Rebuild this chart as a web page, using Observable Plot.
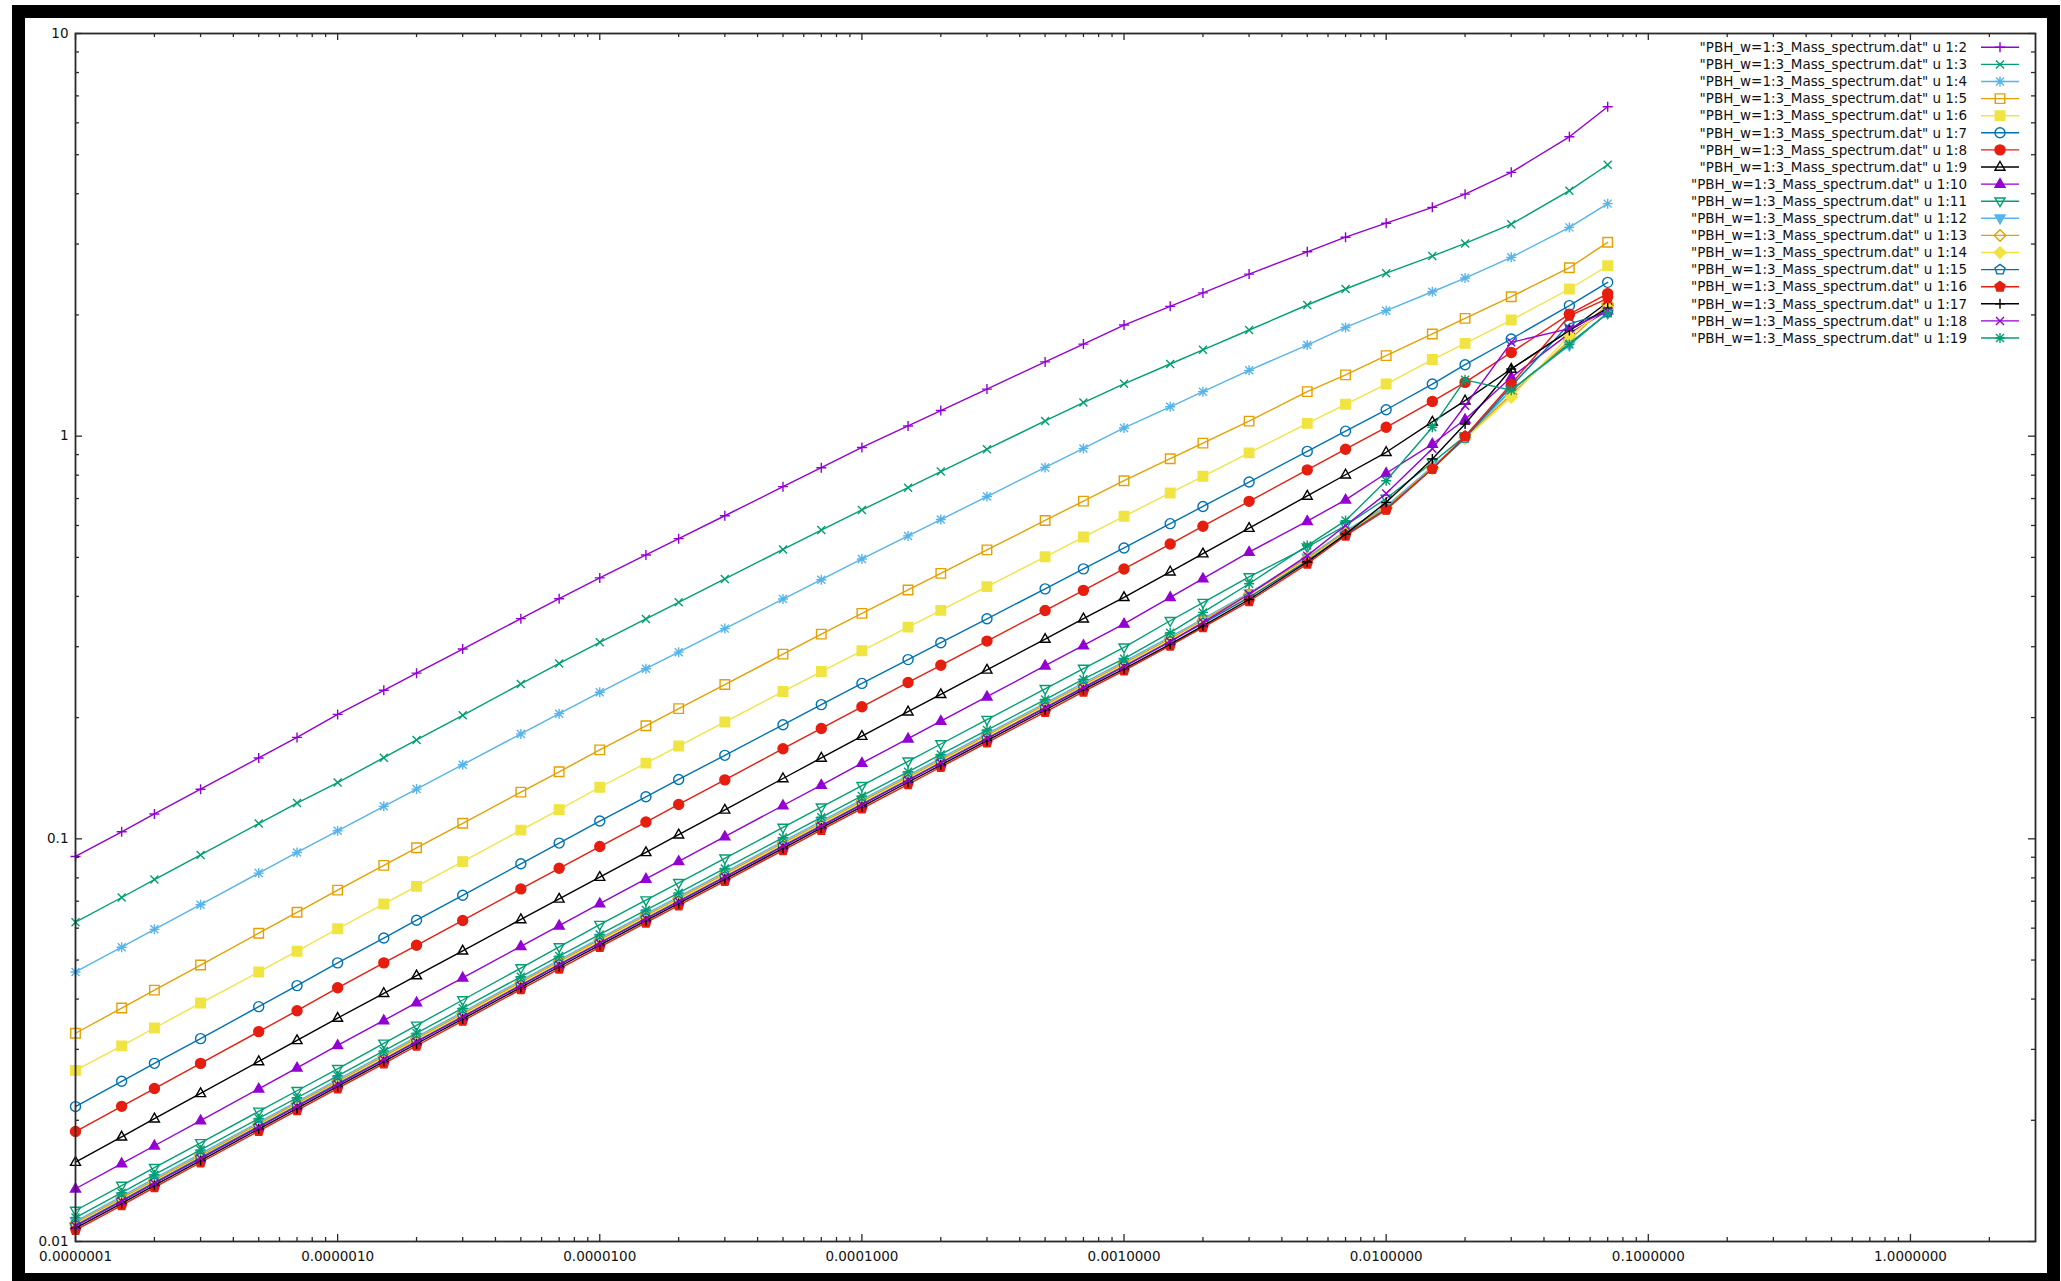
<!DOCTYPE html>
<html><head><meta charset="utf-8">
<script src="https://cdn.jsdelivr.net/npm/d3@7"></script>
<script src="https://cdn.jsdelivr.net/npm/@observablehq/plot@0.6"></script>
<style>
html,body{margin:0;padding:0;background:#fff;overflow:hidden;width:2061px;height:1281px;}
#chart{position:absolute;left:0;top:0;}
#frame{position:absolute;left:12px;top:5px;width:2022px;height:1255px;border:13px solid #000;pointer-events:none;}
</style></head><body>
<div id="chart"></div><div id="frame"></div>
<script>
// x values (mass)
const massX = [1e-7,1.5e-7,2e-7,3e-7,5e-7,7e-7, 1e-6,1.5e-6,2e-6,3e-6,5e-6,7e-6, 1e-5,1.5e-5,2e-5,3e-5,5e-5,7e-5,
  1e-4,1.5e-4,2e-4,3e-4,5e-4,7e-4, 1e-3,1.5e-3,2e-3,3e-3,5e-3,7e-3, 1e-2,1.5e-2,2e-2,3e-2,5e-2,7e-2];

const c2 = [0.0904,0.1041,0.1153,0.1328,0.1588,0.1786, 0.2037,0.2338,0.2579,0.296,0.3522,0.3948, 0.4446,0.5069,0.5566,0.6344,0.7492,0.835,
  0.9376,1.060,1.158,1.309,1.529,1.693, 1.888,2.101,2.269,2.526,2.87,3.12, 3.38,3.70,3.99,4.52,5.54,6.58];
const c3 = [0.0621,0.0715,0.0792,0.0912,0.1091,0.1227, 0.138,0.159,0.176,0.2027,0.2425,0.2727, 0.3076,0.3516,0.3867,0.442,0.5232,0.5844,
  0.656,0.745,0.817,0.928,1.091,1.212, 1.349,1.511,1.638,1.835,2.117,2.32, 2.54,2.80,3.01,3.36,4.07,4.72];
const c4 = [0.0467,0.0538,0.0596,0.0686,0.0822,0.0925, 0.1047,0.1204,0.1329,0.1528,0.1822,0.2046, 0.2312,0.2645,0.2908,0.3327,0.394,0.44,
  0.4955,0.5654,0.6208,0.7081,0.8364,0.9325, 1.048,1.183,1.29,1.457,1.684,1.862, 2.05,2.284,2.47,2.78,3.30,3.78];
const c5 = [0.0329,0.038,0.0421,0.0486,0.0583,0.0657, 0.0746,0.0859,0.095,0.1093,0.1306,0.1467, 0.1663,0.1909,0.2105,0.2416,0.2875,0.3223,
  0.3631,0.415,0.4564,0.5218,0.6176,0.6899, 0.775,0.879,0.961,1.09,1.29,1.42, 1.585,1.794,1.961,2.22,2.62,3.03];
const c6 = [0.0266,0.0306,0.0339,0.0391,0.0467,0.0526, 0.0598,0.0689,0.0762,0.0878,0.1051,0.1182, 0.1343,0.1542,0.17,0.1951,0.2322,0.2603,
  0.2931,0.3356,0.3693,0.423,0.5018,0.5616, 0.6324,0.7228,0.7949,0.9088,1.076,1.20, 1.347,1.55,1.70,1.943,2.32,2.65];
const c7 = [0.02163,0.025,0.0277,0.0319,0.0383,0.0432, 0.0492,0.0567,0.0628,0.0724,0.0867,0.0976, 0.1107,0.1272,0.1404,0.1612,0.192,0.2154,
  0.2432,0.2787,0.3069,0.3519,0.4176,0.4682, 0.5277,0.6063,0.6691,0.7694,0.9166,1.029, 1.163,1.347,1.505,1.743,2.11,2.41];
const c8 = [0.01875,0.02166,0.02398,0.02769,0.03321,0.03743, 0.04266,0.0492,0.0544,0.0627,0.0751,0.0845, 0.0957,0.1101,0.1217,0.1401,0.1674,0.188,
  0.2128,0.2445,0.2698,0.3098,0.369,0.4141, 0.468,0.5396,0.5976,0.6889,0.8246,0.928, 1.052,1.22,1.36,1.614,2.01,2.26];
const c9 = [0.01574,0.0182,0.02018,0.02333,0.028,0.03159, 0.03589,0.04135,0.04576,0.05272,0.06306,0.07092, 0.08035,0.09256,0.1024,0.118,0.1412,0.1588,
  0.1799,0.2069,0.2285,0.2628,0.3134,0.3521, 0.398,0.4605,0.511,0.591,0.7104,0.802, 0.912,1.085,1.225,1.468,1.83,2.15];
const c10 = [0.01352,0.01562,0.01729,0.01997,0.02394,0.02699, 0.03069,0.03539,0.03919,0.04518,0.05408,0.06086, 0.06902,0.07951,0.08793,0.1013,0.121,0.136,
  0.1542,0.1773,0.196,0.2254,0.2691,0.3022, 0.3418,0.3979,0.443,0.5154,0.615,0.695, 0.809,0.956,1.10,1.40,1.80,2.05];
const c11 = [0.01194,0.01377,0.01525,0.01758,0.02104,0.02368, 0.02685,0.03104,0.03442,0.03979,0.04777,0.05389, 0.06124,0.07043,0.07777,0.08947,0.1067,0.1198,
  0.1355,0.1558,0.172,0.1977,0.2358,0.2648, 0.299,0.348,0.386,0.447,0.53,0.60, 0.70,0.86,1.0,1.3,1.7,2.02];
const c12 = [0.01122,0.01294,0.01434,0.01653,0.01978,0.02226, 0.02524,0.0291,0.03222,0.03715,0.04447,0.05004, 0.05663,0.06512,0.07186,0.08262,0.09853,0.1107,
  0.1251,0.1437,0.1586,0.1824,0.2172,0.244, 0.2754,0.3174,0.352,0.408,0.50,0.582, 0.67,0.84,0.99,1.30,1.68,2.03];
const c13 = [0.01112,0.01282,0.0142,0.01637,0.01959,0.02205, 0.025,0.02882,0.03192,0.03679,0.04405,0.04957, 0.05609,0.0645,0.07118,0.08184,0.0976,0.1096,
  0.1239,0.1423,0.1571,0.1807,0.2152,0.2416, 0.2728,0.3144,0.349,0.405,0.497,0.578, 0.665,0.835,0.99,1.27,1.73,2.13];
const c14 = [0.01101,0.01269,0.01407,0.01621,0.0194,0.02184, 0.02476,0.02855,0.03161,0.03644,0.04362,0.04909, 0.05555,0.06388,0.0705,0.08105,0.09666,0.1086,
  0.1227,0.141,0.1556,0.1789,0.2131,0.2393, 0.2702,0.3113,0.345,0.40,0.492,0.572, 0.66,0.83,0.985,1.25,1.78,2.08];
const c15 = [0.01097,0.01264,0.01401,0.01615,0.01933,0.02175, 0.02466,0.02835,0.03139,0.03619,0.04333,0.04876, 0.05518,0.06345,0.07002,0.0805,0.096,0.1078,
  0.1219,0.14,0.1546,0.1777,0.2117,0.2377, 0.2684,0.3092,0.343,0.398,0.49,0.57, 0.66,0.83,0.99,1.33,1.90,2.03];
const c16 = [0.01067,0.0123,0.01363,0.01571,0.0188,0.02116, 0.02399,0.02766,0.03063,0.03531,0.04227,0.04757, 0.05383,0.0619,0.06831,0.07854,0.09366,0.1052,
  0.1189,0.1366,0.1508,0.1734,0.2065,0.2319, 0.2618,0.3017,0.335,0.389,0.482,0.566, 0.656,0.83,1.00,1.347,1.99,2.20];
const c17 = [0.0108,0.01244,0.01379,0.01589,0.01902,0.0214, 0.02427,0.02798,0.03098,0.03572,0.04276,0.04812, 0.05445,0.06262,0.0691,0.07945,0.09474,0.1064,
  0.1203,0.1382,0.1525,0.1754,0.2089,0.2346, 0.2642,0.3045,0.338,0.393,0.487,0.571, 0.685,0.878,1.072,1.468,1.83,2.08];
const c18 = [0.01092,0.01258,0.01394,0.01607,0.01923,0.02165, 0.02454,0.0283,0.03133,0.03612,0.04324,0.04866, 0.05507,0.06332,0.06988,0.08035,0.09581,0.1076,
  0.1216,0.1397,0.1543,0.1774,0.2112,0.2372, 0.2678,0.309,0.345,0.405,0.505,0.60, 0.72,0.93,1.19,1.71,1.85,2.05];
const c19 = [0.01147,0.01322,0.01465,0.01689,0.02021,0.02275, 0.02579,0.02974,0.03293,0.03796,0.04544,0.05114, 0.05787,0.06654,0.07343,0.08443,0.1007,0.1131,
  0.1278,0.1467,0.162,0.1863,0.2218,0.2491, 0.2801,0.325,0.365,0.43,0.535,0.617, 0.775,1.052,1.38,1.30,1.69,2.02];

const columnIds = [2,3,4,5,6,7,8,9,10,11,12,13,14,15,16,17,18,19];
const columnValues = [c2,c3,c4,c5,c6,c7,c8,c9,c10,c11,c12,c13,c14,c15,c16,c17,c18,c19];
const palette = ["#9400d3","#009e73","#56b4e9","#e69f00","#f0e442","#0072b2","#e51e10","#000000"];
const symbolKinds = ["plus","times","star","square","square","circle","circle","triUp","triUp","triDown","triDown","diamond","diamond","pentagon","pentagon","plus","times","star"];
const symbolFilled = [false,false,false,false,true,false,true,false,true,false,true,false,true,false,true,false,false,false];
const xMajor = [1e-7,1e-6,1e-5,1e-4,1e-3,1e-2,1e-1,1];
const yMajor = [0.01,0.1,1,10];

function makeSymbol(kind){
  return {draw(ctx, size){
    const r = Math.sqrt(size/Math.PI);
    if (kind==="plus"||kind==="star"){ctx.moveTo(-r,0);ctx.lineTo(r,0);ctx.moveTo(0,-r);ctx.lineTo(0,r);}
    if (kind==="times"||kind==="star"){const a=r*0.8;ctx.moveTo(-a,-a);ctx.lineTo(a,a);ctx.moveTo(-a,a);ctx.lineTo(a,-a);}
    if (kind==="square"){const a=r*0.95;ctx.moveTo(-a,-a);ctx.lineTo(a,-a);ctx.lineTo(a,a);ctx.lineTo(-a,a);ctx.closePath();}
    if (kind==="circle"){ctx.moveTo(r,0);ctx.arc(0,0,r,0,2*Math.PI);ctx.closePath();}
    if (kind==="triUp"){ctx.moveTo(0,-1.1*r);ctx.lineTo(r,0.65*r);ctx.lineTo(-r,0.65*r);ctx.closePath();}
    if (kind==="triDown"){ctx.moveTo(0,1.1*r);ctx.lineTo(r,-0.65*r);ctx.lineTo(-r,-0.65*r);ctx.closePath();}
    if (kind==="diamond"){const a=1.15*r;ctx.moveTo(0,-a);ctx.lineTo(a,0);ctx.lineTo(0,a);ctx.lineTo(-a,0);ctx.closePath();}
    if (kind==="pentagon"){for(let k=0;k<5;k++){const t=-Math.PI/2+k*2*Math.PI/5;const px=1.05*r*Math.cos(t),py=1.05*r*Math.sin(t);k?ctx.lineTo(px,py):ctx.moveTo(px,py);}ctx.closePath();}
  }};
}

const series = columnIds.map((c,i)=>({
  label: `"PBH_w=1:3_Mass_spectrum.dat" u 1:${c}`,
  color: palette[i % 8],
  symbol: makeSymbol(symbolKinds[i]),
  filled: symbolFilled[i],
  rows: massX.map((x,j)=>({x, y: columnValues[i][j]}))
}));

const W=2061,H=1281,mL=75,mR=26,mT=33,mB=40;
const plotH=H-mT-mB, plotW=W-mL-mR;
const xMinor=[]; for(const b of xMajor) for(let m=2;m<=9;m++){const v=m*b; if(v<2.9) xMinor.push(v);}
const yMinor=[]; for(const b of [0.01,0.1,1]) for(let m=2;m<=9;m++) yMinor.push(m*b);
const axisColor="#2a2a2a";
const marks=[];
series.forEach(s=>{
  marks.push(Plot.line(s.rows,{x:"x",y:"y",stroke:s.color,strokeWidth:1.4}));
  marks.push(Plot.dot(s.rows,{x:"x",y:"y",r:5,symbol:s.symbol,stroke:s.color,strokeWidth:1.4,fill:s.filled?s.color:"none"}));
});
marks.push(
  Plot.tickX(xMajor,{x:d=>d,insetTop:plotH-7,stroke:axisColor,strokeWidth:1.3}),
  Plot.tickX(xMajor,{x:d=>d,insetBottom:plotH-7,stroke:axisColor,strokeWidth:1.3}),
  Plot.tickX(xMinor,{x:d=>d,insetTop:plotH-4,stroke:axisColor,strokeWidth:1.3}),
  Plot.tickX(xMinor,{x:d=>d,insetBottom:plotH-4,stroke:axisColor,strokeWidth:1.3}),
  Plot.tickY(yMajor,{y:d=>d,insetRight:plotW-7,stroke:axisColor,strokeWidth:1.3}),
  Plot.tickY(yMajor,{y:d=>d,insetLeft:plotW-7,stroke:axisColor,strokeWidth:1.3}),
  Plot.tickY(yMinor,{y:d=>d,insetRight:plotW-4,stroke:axisColor,strokeWidth:1.3}),
  Plot.tickY(yMinor,{y:d=>d,insetLeft:plotW-4,stroke:axisColor,strokeWidth:1.3}),
  Plot.frame({stroke:axisColor,strokeWidth:1.8}),
  Plot.text(xMajor,{x:d=>d,text:d=>d.toFixed(7),frameAnchor:"bottom",dy:19,fill:"#111"}),
  Plot.text(yMajor,{y:d=>d,text:d=>String(d),frameAnchor:"left",dx:-7,textAnchor:"end",fill:"#111"})
);

const chart = Plot.plot({
  width:W,height:H,marginLeft:mL,marginRight:mR,marginTop:mT,marginBottom:mB,
  style:{fontFamily:"DejaVu Sans",fontSize:"13.5px",background:"transparent",overflow:"visible"},
  x:{type:"log",domain:[1e-7,3],axis:null},
  y:{type:"log",domain:[0.01,10],axis:null},
  marks
});
document.getElementById("chart").appendChild(chart);

// key (legend), gnuplot style, inside the top-right of the plot
const key = d3.select(chart).append("g").attr("font-family","DejaVu Sans").attr("font-size","13.5px");
series.forEach((s,i)=>{
  const yy = 47.3 + i*17.1;
  key.append("text").attr("x",1967).attr("y",yy).attr("dy","0.35em").attr("text-anchor","end").attr("fill","#111").text(s.label);
  key.append("line").attr("x1",1981).attr("x2",2019).attr("y1",yy).attr("y2",yy).attr("stroke",s.color).attr("stroke-width",1.4);
  const p = d3.path(); s.symbol.draw(p, 25*Math.PI);
  key.append("path").attr("transform",`translate(2000,${yy})`).attr("d",p.toString())
    .attr("stroke",s.color).attr("stroke-width",1.4).attr("fill",s.filled?s.color:"none");
});
</script>
</body></html>
